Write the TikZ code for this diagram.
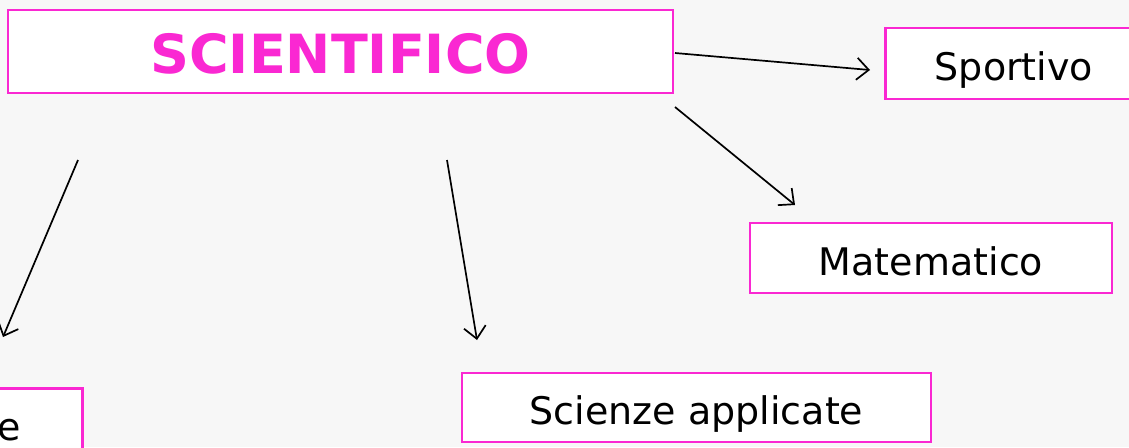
\documentclass[tikz,border=0pt]{standalone}
\usepackage{fontspec}
\setmainfont{DejaVu Sans}
\usetikzlibrary{arrows.meta}

\definecolor{fucsia}{RGB}{250,40,210}
\definecolor{sfondo}{RGB}{247,247,247}

\tikzset{
  box/.style={draw=fucsia, line width=1.3pt, fill=white, inner sep=0pt,
    font=\fontsize{19}{22}\selectfont, text height=20pt, text depth=3pt},
  freccia/.style={black, line width=.85pt, -{Straight Barb[length=6pt,width=11pt]}},
}

\begin{document}
\begin{tikzpicture} [x=.5pt, y=-.5pt]

\fill[sfondo] (0,0) rectangle (1129,447);
\useasboundingbox (0,0) rectangle (1129,447);

\node[box, minimum width=332.5pt, minimum height=41.5pt, text=fucsia, text height=22pt, text depth=.5pt,
  font=\fontsize{27}{30}\selectfont\bfseries] (sci) at (340.5,51.5) {SCIENTIFICO};
\node[box, minimum width=128.5pt, minimum height=35.5pt] (sport) at (1014,63.5) {Sportivo};
\node[box, minimum width=181pt, minimum height=35pt] (mat) at (931,258) {Matematico};
\node[box, minimum width=234.5pt, minimum height=34.5pt] (sa) at (696.5,407.5) {Scienze applicate};
\node[box, anchor=north east, minimum height=35pt, inner xsep=31pt] (trad) at (84,387) {e};

% frecce
\coordinate (s1) at (675,53);   \coordinate (e1) at (870,70);
\coordinate (s2) at (675,107);  \coordinate (e2) at (795,205);
\coordinate (s3) at (447,160);  \coordinate (e3) at (477,340);
\coordinate (s4) at (78,160);   \coordinate (e4) at (3,337);
\foreach \i in {1,...,4} {
 \draw[freccia] (s\i) -- (e\i);
};

\end{tikzpicture}
\end{document}
